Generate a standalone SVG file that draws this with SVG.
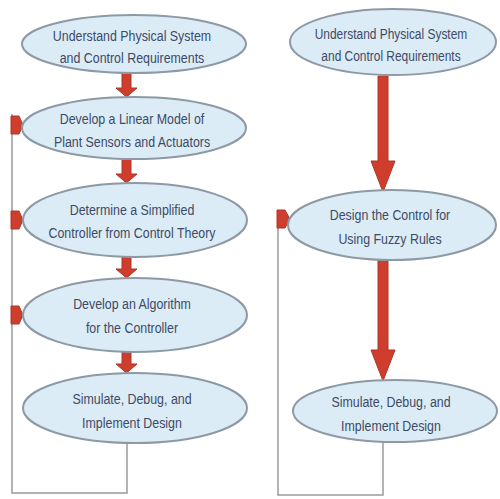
<svg xmlns="http://www.w3.org/2000/svg" width="500" height="499" viewBox="0 0 500 499">
<defs>
<style>
.node ellipse{fill:#dcecf7;stroke:#8d99a4;stroke-width:2}
.node text{font-family:"Liberation Sans",Arial,sans-serif;font-size:15.5px;fill:#3d4a66;text-anchor:middle}
.loop{fill:none;stroke:#9a9a9a;stroke-width:1.5}
.arrow{fill:#cf3d2c;stroke:#a8382a;stroke-width:1}
</style>
</defs>
<rect width="500" height="499" fill="#ffffff"/>
<g id="connectors">
<polyline class="loop" points="127,443 127,493 12,493 12,114"/>
<polyline class="loop" points="383,442 383,495 278,495 278,212"/>
<polygon class="arrow" points="122,73 131,73 131,88 137,88 126.5,97 116,88 122,88"/>
<polygon class="arrow" points="122,159 131,159 131,174 137,174 126.5,183 116,174 122,174"/>
<polygon class="arrow" points="122,257 131,257 131,269 137,269 126.5,278 116,269 122,269"/>
<polygon class="arrow" points="122,352 131,352 131,364 137,364 126.5,373 116,364 122,364"/>
<polygon class="arrow" points="378,76 388,76 388,161 395,161 383,192 371,161 378,161"/>
<polygon class="arrow" points="378,260 388,260 388,350 395,350 383,381 371,350 378,350"/>
<polygon class="arrow" points="11,116 19,116 23,125 19,134 11,134"/>
<polygon class="arrow" points="11,211 19,211 23,220 19,229 11,229"/>
<polygon class="arrow" points="11,306 19,306 23,315 19,324 11,324"/>
<polygon class="arrow" points="277,210 285,210 290,219 285,228 277,228"/>
</g>
<g id="n1" class="node">
<ellipse cx="134" cy="44" rx="112" ry="29"/>
<text transform="translate(132,0) scale(0.8,1)"><tspan x="0" y="41">Understand Physical System</tspan><tspan x="0" y="63">and Control Requirements</tspan></text>
</g>
<g id="n2" class="node">
<ellipse cx="134" cy="128" rx="112" ry="31"/>
<text transform="translate(132,0) scale(0.8,1)"><tspan x="0" y="124">Develop a Linear Model of</tspan><tspan x="0" y="147">Plant Sensors and Actuators</tspan></text>
</g>
<g id="n3" class="node">
<ellipse cx="135" cy="220" rx="112" ry="37"/>
<text transform="translate(132,0) scale(0.8,1)"><tspan x="0" y="215">Determine a Simplified</tspan><tspan x="0" y="238">Controller from Control Theory</tspan></text>
</g>
<g id="n4" class="node">
<ellipse cx="135" cy="315" rx="112" ry="37"/>
<text transform="translate(132,0) scale(0.8,1)"><tspan x="0" y="309">Develop an Algorithm</tspan><tspan x="0" y="333">for the Controller</tspan></text>
</g>
<g id="n5" class="node">
<ellipse cx="135" cy="408" rx="112" ry="35"/>
<text transform="translate(132,0) scale(0.8,1)"><tspan x="0" y="404">Simulate, Debug, and</tspan><tspan x="0" y="428">Implement Design</tspan></text>
</g>
<g id="r1" class="node">
<ellipse cx="393" cy="42" rx="103" ry="33"/>
<text transform="translate(391,0) scale(0.77,1)"><tspan x="0" y="39">Understand Physical System</tspan><tspan x="0" y="61">and Control Requirements</tspan></text>
</g>
<g id="r2" class="node">
<ellipse cx="392" cy="225" rx="104" ry="35"/>
<text transform="translate(390,0) scale(0.8,1)"><tspan x="0" y="220">Design the Control for</tspan><tspan x="0" y="244">Using Fuzzy Rules</tspan></text>
</g>
<g id="r3" class="node">
<ellipse cx="395" cy="411" rx="102" ry="31"/>
<text transform="translate(391,0) scale(0.8,1)"><tspan x="0" y="407">Simulate, Debug, and</tspan><tspan x="0" y="431">Implement Design</tspan></text>
</g>
</svg>
